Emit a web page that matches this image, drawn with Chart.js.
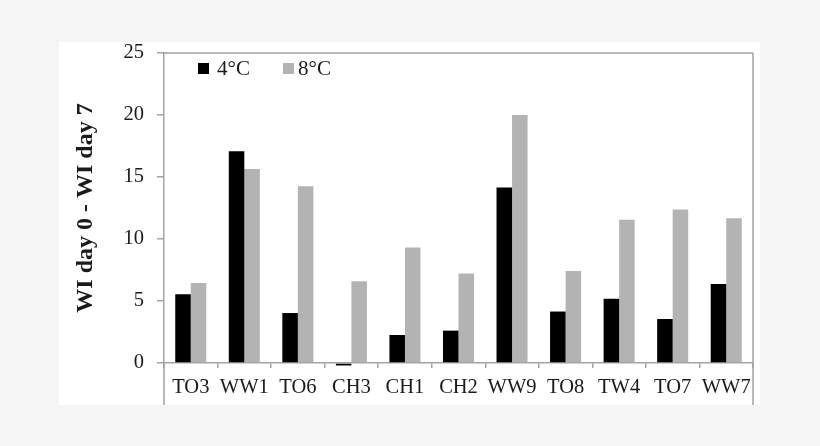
<!DOCTYPE html>
<html><head><meta charset="utf-8">
<script src="https://cdn.jsdelivr.net/npm/chart.js@4/dist/chart.umd.min.js"></script>
<style>html,body{margin:0;padding:0;background:#f5f5f5;}#wrap{width:820px;height:446px;position:relative}canvas{display:block}</style>
</head><body><div id="wrap"><canvas id="c" width="820" height="446"></canvas></div>
<script>
const categories = ['TO3','WW1','TO6','CH3','CH1','CH2','WW9','TO8','TW4','TO7','WW7'];
const series4C = [5.54,17.07,4.03,-0.2,2.26,2.61,14.15,4.15,5.19,3.55,6.37];
const series8C = [6.45,15.65,14.25,6.59,9.31,7.21,20.0,7.42,11.56,12.37,11.67];
const seriesLabels = ['4°C','8°C'];
const yTickValues = [0,5,10,15,20,25];
const yTitle = 'WI day 0 - WI day 7';

const AXIS = '#a3a3a3';
const TEXT = '#1a1a1a';
const SERIF = '"Liberation Serif", "Times New Roman", serif';

const decor = {
  id: 'decor',
  beforeDraw(chart) {
    const ctx = chart.ctx;
    ctx.save();
    ctx.fillStyle = '#ffffff';
    ctx.fillRect(59, 42, 701, 363);
    ctx.restore();
  },
  afterDraw(chart) {
    const ctx = chart.ctx, a = chart.chartArea;
    ctx.save();
    ctx.strokeStyle = AXIS;
    ctx.lineWidth = 1.5;
    ctx.beginPath();
    ctx.moveTo(a.left, a.top); ctx.lineTo(a.right, a.top);
    ctx.moveTo(a.right, a.top); ctx.lineTo(a.right, 405);
    ctx.moveTo(a.left, a.bottom); ctx.lineTo(a.left, 405);
    ctx.stroke();
    // legend
    const pos = [[198, 217], [283, 298]];
    ctx.font = '21px ' + SERIF;
    ctx.textBaseline = 'middle';
    chart.data.datasets.forEach((ds, i) => {
      ctx.fillStyle = ds.backgroundColor;
      ctx.fillRect(pos[i][0], 63, 11, 11);
      ctx.fillStyle = TEXT;
      ctx.fillText(ds.label, pos[i][1], 69);
    });
    ctx.restore();
  }
};

new Chart(document.getElementById('c'), {
  type: 'bar',
  data: {
    labels: categories,
    datasets: [
      { label: seriesLabels[0], data: series4C, backgroundColor: '#000000', clip: false },
      { label: seriesLabels[1], data: series8C, backgroundColor: '#b3b3b3', clip: false }
    ]
  },
  options: {
    responsive: false,
    animation: false,
    devicePixelRatio: 1,
    layout: { padding: { left: 71, right: 67, top: 53, bottom: 43 } },
    datasets: { bar: { categoryPercentage: 0.58, barPercentage: 1.0 } },
    plugins: { legend: { display: false }, tooltip: { enabled: false } },
    scales: {
      x: {
        afterFit(s) { s.height = 40; },
        grid: { drawOnChartArea: false, color: AXIS, tickLength: 5, lineWidth: 1.5 },
        border: { color: AXIS, width: 1.5 },
        ticks: { color: TEXT, font: { family: SERIF, size: 20.5 }, padding: 7, maxRotation: 0, autoSkip: false }
      },
      y: {
        min: 0, max: 25,
        afterFit(s) { s.width = 93; },
        afterBuildTicks(s) { s.ticks = yTickValues.map(v => ({ value: v })); },
        grid: { drawOnChartArea: false, color: AXIS, tickLength: 7, lineWidth: 1.5 },
        border: { color: AXIS, width: 1.5 },
        ticks: { color: TEXT, font: { family: SERIF, size: 20.5 }, padding: 13 },
        title: { display: true, text: yTitle, color: TEXT, padding: 0,
                 font: { family: SERIF, size: 24, weight: 'bold' } }
      }
    }
  },
  plugins: [decor]
});
</script></body></html>
